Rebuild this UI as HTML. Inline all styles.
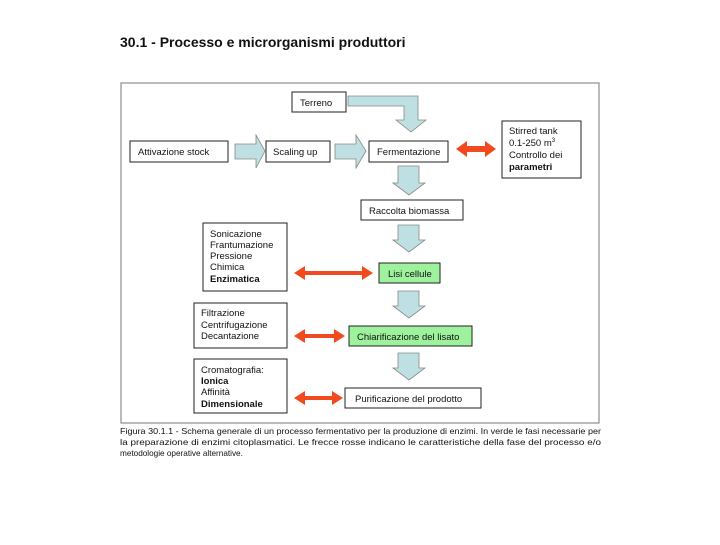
<!DOCTYPE html>
<html><head><meta charset="utf-8"><style>
html,body{margin:0;padding:0;background:#fff;}
svg text{font-family:"Liberation Sans",sans-serif;fill:#111;}
</style></head><body>
<svg width="720" height="540" xmlns="http://www.w3.org/2000/svg">
<text x="120" y="47" font-size="14" font-weight="bold">30.1 - Processo e microrganismi produttori</text>
<rect x="121" y="83" width="478" height="340" fill="#fff" stroke="#777" stroke-width="1"/>
<g fill="#fff" stroke="#222" stroke-width="1">
<rect x="292" y="92" width="54" height="20"/>
<rect x="130" y="141" width="98" height="21"/>
<rect x="266" y="141" width="64" height="21"/>
<rect x="369" y="141" width="79" height="21"/>
<rect x="502" y="121" width="79" height="57"/>
<rect x="361" y="200" width="102" height="20"/>
<rect x="203" y="223" width="84" height="68"/>
<rect x="194" y="303" width="93" height="45"/>
<rect x="194" y="359" width="93" height="54"/>
<rect x="345" y="388" width="136" height="20"/>
</g>
<g fill="#9ef29e" stroke="#222" stroke-width="1">
<rect x="379" y="263" width="61" height="20"/>
<rect x="349" y="326" width="123" height="20"/>
</g>
<g fill="#bfe0e3" stroke="#888" stroke-width="0.8">
<path d="M348,96 H418 V120 H426 L411,132 L396,120 H404 V106 H348 Z"/>
<path d="M235,144 H256 V135 L265,151 L256,168 V159 H235 Z"/>
<path d="M335,144 H356 V135 L366,151 L356,168 V159 H335 Z"/>
<path d="M398,166 H419 V183 H425 L409,195 L393,183 H398 Z"/>
<path d="M398,225 H419 V240 H425 L409,252 L393,240 H398 Z"/>
<path d="M398,291 H419 V306 H425 L409,318 L393,306 H398 Z"/>
<path d="M398,353 H419 V368 H425 L409,380 L393,368 H398 Z"/>
</g>
<g fill="#f04a1e">
<path d="M456,149 L467,141 V146 H485 V141 L496,149 L485,157 V152 H467 V157 Z"/>
<path d="M294,273 L305,266 V271 H362 V266 L373,273 L362,280 V275 H305 V280 Z"/>
<path d="M294,336 L305,329 V334 H334 V329 L345,336 L334,343 V338 H305 V343 Z"/>
<path d="M294,398 L305,391 V396 H332 V391 L343,398 L332,405 V400 H305 V405 Z"/>
</g>
<g font-size="9.5">
<text x="300" y="106">Terreno</text>
<text x="138" y="155">Attivazione stock</text>
<text x="273" y="155">Scaling up</text>
<text x="377" y="155">Fermentazione</text>
<text x="509" y="134">Stirred tank</text>
<text x="509" y="146">0.1-250 m<tspan font-size="6" dy="-4">3</tspan></text>
<text x="509" y="158">Controllo dei</text>
<text x="509" y="170" font-weight="bold">parametri</text>
<text x="369" y="214">Raccolta biomassa</text>
<text x="210" y="237">Sonicazione</text>
<text x="210" y="248">Frantumazione</text>
<text x="210" y="259">Pressione</text>
<text x="210" y="270">Chimica</text>
<text x="210" y="282" font-weight="bold">Enzimatica</text>
<text x="388" y="277">Lisi cellule</text>
<text x="201" y="316">Filtrazione</text>
<text x="201" y="328">Centrifugazione</text>
<text x="201" y="339">Decantazione</text>
<text x="357" y="340">Chiarificazione del lisato</text>
<text x="201" y="373">Cromatografia:</text>
<text x="201" y="384" font-weight="bold">Ionica</text>
<text x="201" y="395">Affinità</text>
<text x="201" y="407" font-weight="bold">Dimensionale</text>
<text x="355" y="402">Purificazione del prodotto</text>
</g>
<g font-size="8.2">
<text x="120" y="434" textLength="481" lengthAdjust="spacingAndGlyphs">Figura 30.1.1 - Schema generale di un processo fermentativo per la produzione di enzimi. In verde le fasi necessarie per</text>
<text x="120" y="445" textLength="481" lengthAdjust="spacingAndGlyphs">la preparazione di enzimi citoplasmatici. Le frecce rosse indicano le caratteristiche della fase del processo e/o</text>
<text x="120" y="456">metodologie operative alternative.</text>
</g>
</svg>
</body></html>
